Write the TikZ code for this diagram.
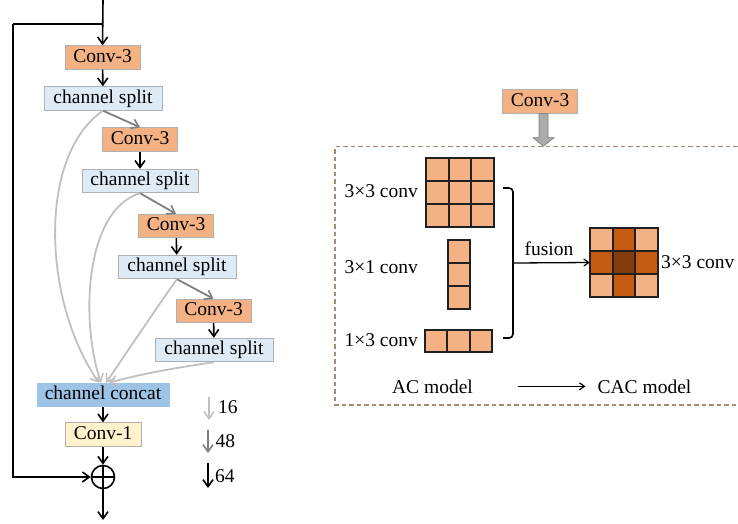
\documentclass[tikz,border=0pt]{standalone}
\usepackage{fontspec}
\setmainfont{Liberation Serif}
\usetikzlibrary{arrows.meta}
\definecolor{convc}{HTML}{F4B183}
\definecolor{splitc}{HTML}{DEEBF7}
\definecolor{concatc}{HTML}{9DC3E6}
\definecolor{conv1c}{HTML}{FFF2CC}
\definecolor{boxline}{HTML}{B0B0B0}
\definecolor{lgray}{HTML}{C0C0C0}
\definecolor{dgray}{HTML}{7F7F7F}
\definecolor{midc}{HTML}{C55A11}
\definecolor{dkc}{HTML}{843C0C}
\definecolor{dashc}{HTML}{A88A74}
\definecolor{cellline}{HTML}{202020}
\begin{document}
\begin{tikzpicture}[x=1pt,y=-1pt,
  font=\fontsize{19.5}{22}\selectfont,
  box/.style={draw=boxline, line width=0.9pt, inner sep=0pt, minimum height=23.5pt, text height=13pt, text depth=4pt},
  convbox/.style={box, fill=convc, minimum width=75pt},
  splitbox/.style={box, fill=splitc, minimum width=118pt},
  blk/.style={-{Straight Barb[length=7pt,width=10pt,line width=1.6pt]}, line width=1.6pt},
  dg/.style={-{Straight Barb[length=7pt,width=10pt,line width=1.6pt]}, line width=1.8pt, draw=dgray},
  lg/.style={-{Straight Barb[length=7pt,width=10pt,line width=1.6pt]}, line width=1.8pt, draw=lgray},
  cell/.style={draw=cellline, line width=1.8pt},
  lbl/.style={inner sep=0pt}
]
\useasboundingbox (0,0) rectangle (738,523);

% ---------- left panel ----------
\node[convbox] (c1) at (102.5,57.5) {Conv-3};
\node[splitbox] (s1) at (103,98.5) {channel split};
\node[convbox] (c2) at (140,139.5) {Conv-3};
\node[splitbox, minimum width=116pt] (s2) at (140,181) {channel split};
\node[convbox] (c3) at (176,226) {Conv-3};
\node[splitbox] (s3) at (177,267) {channel split};
\node[convbox] (c4) at (213.5,311) {Conv-3};
\node[splitbox] (s4) at (214,350) {channel split};
\node[box, fill=concatc, draw=concatc, minimum width=132pt] (cc) at (103,395) {channel concat};
\node[box, fill=conv1c, minimum width=76pt] (k1) at (103,434.5) {Conv-1};
\node[circle, draw, line width=1.6pt, minimum size=23pt, inner sep=0pt] (op) at (103,477) {};
\draw[line width=1.6pt] (op.north) -- (op.south) (op.west) -- (op.east);

\coordinate (top) at (103,0);
\coordinate (jn) at (103,24);
\coordinate (lc) at (13,24);
\coordinate (bot) at (103,520);

\draw[blk] (top) -- (c1.north);
\draw[line width=1.6pt] (jn) -- (lc);
\draw[blk] (lc) |- (op.west);
\draw[blk] (c1) -- (s1);
\draw[blk] (c2) -- (s2);
\draw[blk] (c3) -- (s3);
\draw[blk] (c4) -- (s4);
\draw[blk] (cc) -- (k1);
\draw[blk] (k1) -- (op);
\draw[blk] (op.south) -- (bot);

\draw[dg] (s1.south) -- (c2.north);
\draw[dg] (s2.south) -- (c3.north);
\draw[dg] (s3.south) -- (c4.north);

\draw[lg] (s1.south) .. controls (38,155) and (42,300) .. ([xshift=-4pt]cc.north);
\draw[lg] (s2.south) .. controls (85,210) and (80,320) .. ([xshift=-2pt]cc.north);
\draw[lg] (s3.south) .. controls (155,310) and (125,355) .. ([xshift=3pt]cc.north);
\draw[lg] (s4.south) .. controls (180,367) and (140,374) .. ([xshift=6pt]cc.north);

% legend
\coordinate (l1a) at (209,397); \coordinate (l1b) at (209,420);
\coordinate (l2a) at (208,430); \coordinate (l2b) at (208,453);
\coordinate (l3a) at (208,463); \coordinate (l3b) at (208,488);
\draw[lg] (l1a) -- (l1b);
\draw[dg] (l2a) -- (l2b);
\draw[blk] (l3a) -- (l3b);
\node[lbl, anchor=base west] (t16) at (218,413) {16};
\node[lbl, anchor=base west] (t48) at (215.5,447) {48};
\node[lbl, anchor=base west] (t64) at (215,482) {64};

% ---------- right panel ----------
\draw[dashc, line width=1.5pt, dash pattern=on 4.5pt off 3pt] (745,146.7) -- (335,146.7) -- (335,405) -- (745,405);

\node[convbox] (cr) at (540,101.5) {Conv-3};
\filldraw[fill=gray!65, draw=dgray, line width=0.7pt]
  ([xshift=-1pt]cr.south) -- ([xshift=8pt]cr.south) -- ++(0,24) -- ++(6,0) -- ++(-10.5,8.5) -- ++(-10.5,-8.5) -- ++(6,0) -- cycle;

% 3x3
\foreach \i in {0,1,2} \foreach \j in {0,1,2}
  \draw[cell, fill=convc] (426+\i*22.667,158+\j*23) rectangle ++(22.667,23);
% 3x1
\foreach \j in {0,1,2}
  \draw[cell, fill=convc] (448,240+\j*23) rectangle ++(22,23);
% 1x3
\foreach \i in {0,1,2}
  \draw[cell, fill=convc] (425+\i*22.333,330) rectangle ++(22.333,22);

\node[lbl, anchor=base east] (l33) at (418,197) {3×3 conv};
\node[lbl, anchor=base east] (l31) at (418,273) {3×1 conv};
\node[lbl, anchor=base east] (l13) at (418,346) {1×3 conv};

% result grid
\node[minimum width=68pt, minimum height=69pt, inner sep=0pt] (res) at (624,262.5) {};
\foreach \i/\j/\c in {0/0/convc,1/0/midc,2/0/convc,0/1/midc,1/1/dkc,2/1/midc,0/2/convc,1/2/midc,2/2/convc}
  \draw[cell, fill=\c] (590+\i*22.667,228+\j*23) rectangle ++(22.667,23);
\node[lbl, anchor=base west] (lres) at (661,268) {3×3 conv};

% bracket and fusion
\coordinate (b1) at (503,188);
\coordinate (b2) at (503,338);
\coordinate (fj) at (513,263);
\draw[line width=1.6pt, rounded corners=4pt] (b1) -- (513,188) -- (513,338) -- (b2);
\draw[-{Straight Barb[length=5pt,width=7pt,line width=1.2pt]}, line width=1.3pt] (fj) -- (res.west);
\node[lbl, anchor=base] (fus) at (549,255) {fusion};

\node[lbl, anchor=base] (ac) at (432.5,393) {AC model};
\node[lbl, anchor=base] (cac) at (644.5,393) {CAC model};
\draw[-{Straight Barb[length=5pt,width=7pt,line width=1.2pt]}, line width=1.5pt, shorten <=45pt, shorten >=12pt] (ac.east) -- (cac.west);
\end{tikzpicture}
\end{document}
